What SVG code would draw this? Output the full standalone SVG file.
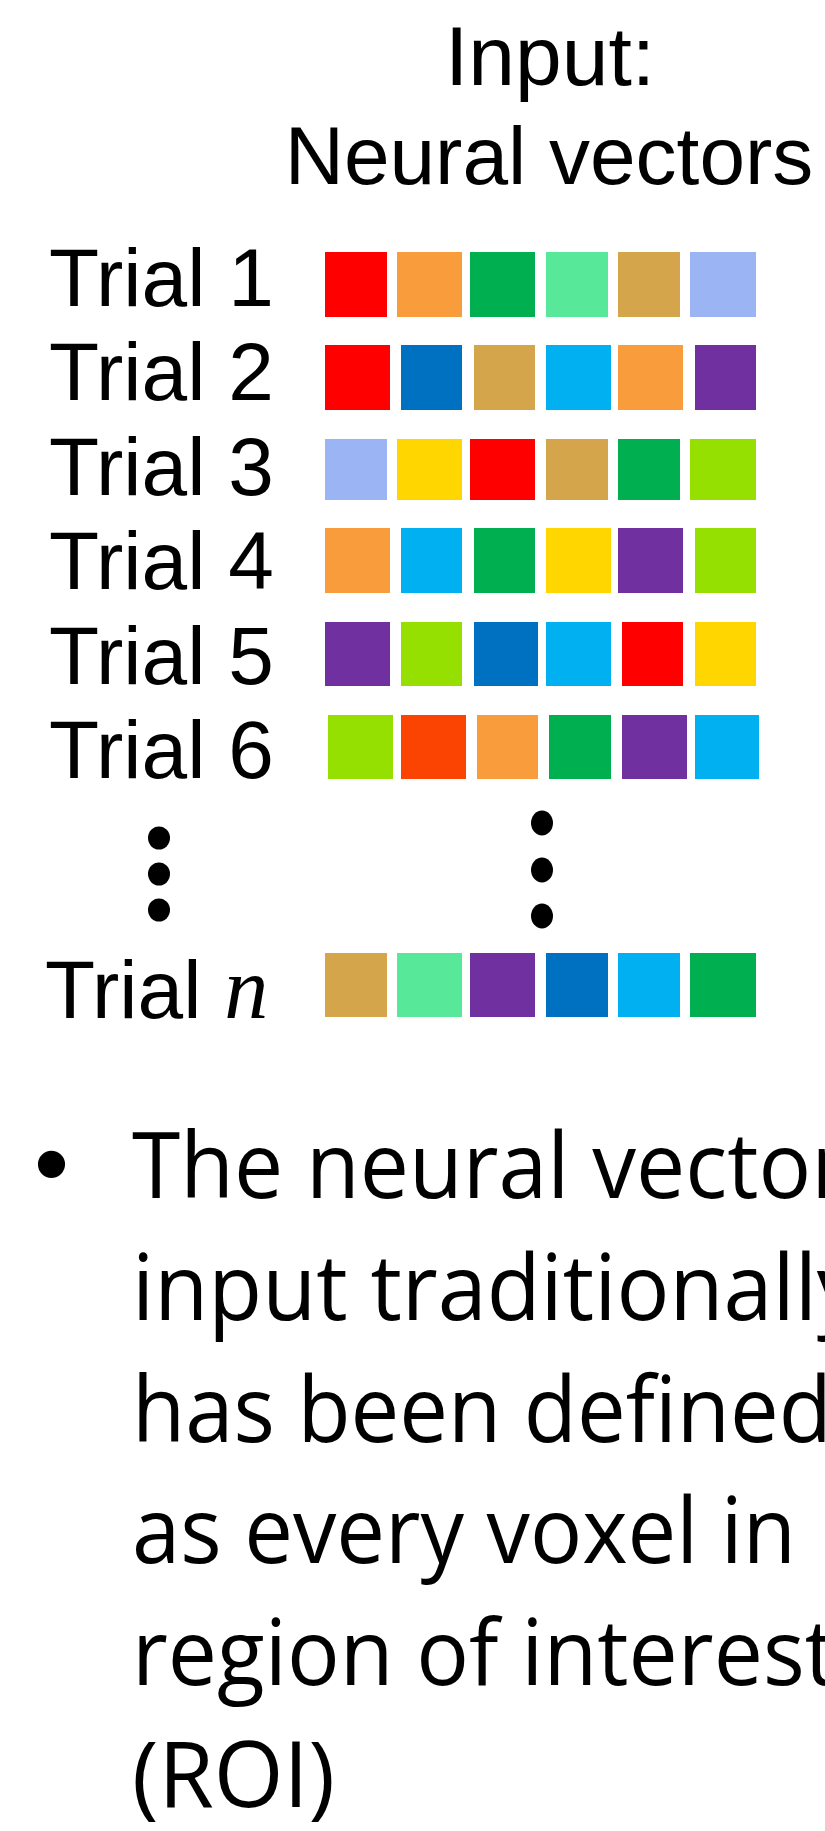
<svg xmlns="http://www.w3.org/2000/svg" width="825" height="1831" viewBox="0 0 825 1831">
  <style>
    .lbl { font-family: "Liberation Sans", Arial, sans-serif; font-size: 82px; fill: #000; }
    .ttl { font-family: "Liberation Sans", Arial, sans-serif; font-size: 84px; fill: #000; text-anchor: middle; }
    .var { font-family: "Liberation Serif", "Times New Roman", serif; font-style: italic; font-size: 88px; fill: #000; }
    .body { font-family: "Open Sans", "Noto Sans", sans-serif; font-size: 91px; fill: #000; }
    .bul { font-family: "Liberation Sans", Arial, sans-serif; font-size: 100px; fill: #000; }
    .red { fill: #FF0000; }
    .org { fill: #F99C3C; }
    .grn { fill: #00B050; }
    .mnt { fill: #57E89A; }
    .tan { fill: #D4A54A; }
    .per { fill: #9AB4F4; }
    .dbl { fill: #0070C0; }
    .lbl2 { fill: #00B0F0; }
    .pur { fill: #7030A0; }
    .yel { fill: #FFD600; }
    .lim { fill: #95E000; }
    .ore { fill: #FC4402; }
    .dot { fill: #000; }
  </style>

  <rect width="825" height="1831" fill="#FFFFFF"/>

  <!-- heading -->
  <g id="title">
    <text class="ttl" x="550" y="85">Input:</text>
    <text class="ttl" x="549" y="184" style="font-size:82px">Neural vectors</text>
  </g>

  <!-- one row per trial: label + six feature cells -->
  <g id="trial-1">
    <text class="lbl" x="49" y="306">Trial 1</text>
    <rect class="red" x="325" y="252" width="62" height="65"/>
    <rect class="org" x="397" y="252" width="65" height="65"/>
    <rect class="grn" x="470" y="252" width="65" height="65"/>
    <rect class="mnt" x="546" y="252" width="62" height="65"/>
    <rect class="tan" x="618" y="252" width="62" height="65"/>
    <rect class="per" x="690" y="252" width="66" height="65"/>
  </g>

  <g id="trial-2">
    <text class="lbl" x="49" y="400">Trial 2</text>
    <rect class="red" x="325" y="345" width="65" height="65"/>
    <rect class="dbl" x="401" y="345" width="61" height="65"/>
    <rect class="tan" x="474" y="345" width="61" height="65"/>
    <rect class="lbl2" x="546" y="345" width="65" height="65"/>
    <rect class="org" x="618" y="345" width="65" height="65"/>
    <rect class="pur" x="695" y="345" width="61" height="65"/>
  </g>

  <g id="trial-3">
    <text class="lbl" x="49" y="495">Trial 3</text>
    <rect class="per" x="325" y="439" width="62" height="61"/>
    <rect class="yel" x="397" y="439" width="65" height="61"/>
    <rect class="red" x="470" y="439" width="65" height="61"/>
    <rect class="tan" x="546" y="439" width="62" height="61"/>
    <rect class="grn" x="618" y="439" width="62" height="61"/>
    <rect class="lim" x="690" y="439" width="66" height="61"/>
  </g>

  <g id="trial-4">
    <text class="lbl" x="49" y="589">Trial 4</text>
    <rect class="org" x="325" y="528" width="65" height="65"/>
    <rect class="lbl2" x="401" y="528" width="61" height="65"/>
    <rect class="grn" x="474" y="528" width="61" height="65"/>
    <rect class="yel" x="546" y="528" width="65" height="65"/>
    <rect class="pur" x="618" y="528" width="65" height="65"/>
    <rect class="lim" x="695" y="528" width="61" height="65"/>
  </g>

  <g id="trial-5">
    <text class="lbl" x="49" y="684">Trial 5</text>
    <rect class="pur" x="325" y="622" width="65" height="64"/>
    <rect class="lim" x="401" y="622" width="61" height="64"/>
    <rect class="dbl" x="474" y="622" width="64" height="64"/>
    <rect class="lbl2" x="546" y="622" width="65" height="64"/>
    <rect class="red" x="622" y="622" width="61" height="64"/>
    <rect class="yel" x="695" y="622" width="61" height="64"/>
  </g>

  <g id="trial-6">
    <text class="lbl" x="49" y="778">Trial 6</text>
    <rect class="lim" x="328" y="715" width="65" height="64"/>
    <rect class="ore" x="401" y="715" width="65" height="64"/>
    <rect class="org" x="477" y="715" width="61" height="64"/>
    <rect class="grn" x="549" y="715" width="62" height="64"/>
    <rect class="pur" x="622" y="715" width="65" height="64"/>
    <rect class="lbl2" x="695" y="715" width="64" height="64"/>
  </g>

  <!-- vertical ellipsis -->
  <g id="ellipsis">
    <ellipse class="dot" cx="159" cy="838" rx="11" ry="11.5"/>
    <ellipse class="dot" cx="159" cy="874" rx="11" ry="11.5"/>
    <ellipse class="dot" cx="159" cy="910" rx="11" ry="11.5"/>
    <ellipse class="dot" cx="542" cy="823" rx="11" ry="12.5"/>
    <ellipse class="dot" cx="542" cy="870" rx="11" ry="12.5"/>
    <ellipse class="dot" cx="542" cy="916" rx="11" ry="12.5"/>
  </g>

  <g id="trial-n">
    <text class="lbl" x="45" y="1018">Trial <tspan class="var">n</tspan></text>
    <rect class="tan" x="325" y="953" width="62" height="64"/>
    <rect class="mnt" x="397" y="953" width="65" height="64"/>
    <rect class="pur" x="470" y="953" width="65" height="64"/>
    <rect class="dbl" x="546" y="953" width="62" height="64"/>
    <rect class="lbl2" x="618" y="953" width="62" height="64"/>
    <rect class="grn" x="690" y="953" width="66" height="64"/>
  </g>

  <!-- explanatory bullet -->
  <g id="note">
    <text class="bul" x="34" y="1198">•</text>
    <text class="body" x="132" y="1198" textLength="715" lengthAdjust="spacingAndGlyphs">The neural vector</text>
    <text class="body" x="132" y="1320" textLength="729" lengthAdjust="spacingAndGlyphs">input traditionally</text>
    <text class="body" x="132" y="1442" textLength="700" lengthAdjust="spacingAndGlyphs">has been defined</text>
    <text class="body" x="132" y="1563" textLength="664" lengthAdjust="spacingAndGlyphs">as every voxel in</text>
    <text class="body" x="132" y="1685" textLength="704" lengthAdjust="spacingAndGlyphs">region of interest</text>
    <text class="body" x="132" y="1807" textLength="203" lengthAdjust="spacingAndGlyphs">(ROI)</text>
  </g>
</svg>
